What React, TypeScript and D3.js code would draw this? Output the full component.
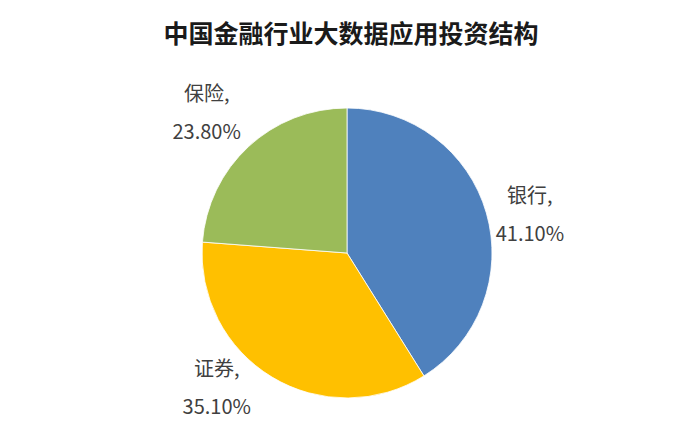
import * as d3 from 'd3'
import {useRef, useEffect} from 'react'

const title = '中国金融行业大数据应用投资结构'
const categories: string[] = ['银行', '证券', '保险']
const shares: number[] = [41.1, 35.1, 23.8]
const colors: string[] = ['#4F81BD', '#FFC000', '#9BBB59']

// Excel places the outside labels a little off the slice middle
const labelTweak = [
  {da: 4, r: 187},
  {da: 13, r: 187},
  {da: -2, r: 199},
]

interface Slice {
  name: string
  value: number
}

export default function App() {
  const svgRef = useRef<SVGSVGElement>(null)

  const svgWidth = 700
  const svgHeight = 443
  const cx = 347
  const cy = 253
  const radius = 145

  useEffect(() => {
    const SVG = d3.select(svgRef.current)
    SVG.selectAll('*').remove()

    const data: Slice[] = categories.map((name, i) => ({name, value: shares[i]}))

    const pie = d3.pie<Slice>().sort(null).value(d => d.value)
    const arcs = pie(data)
    const arc = d3.arc<d3.PieArcDatum<Slice>>().innerRadius(0).outerRadius(radius)

    SVG.append('text')
      .attr('x', 351)
      .attr('y', 43)
      .attr('text-anchor', 'middle')
      .attr('font-size', 25)
      .attr('font-weight', 'bold')
      .attr('fill', '#1a1a1a')
      .text(title)

    const g = SVG.append('g').attr('transform', `translate(${cx},${cy})`)

    g.selectAll('path')
      .data(arcs)
      .enter()
      .append('path')
      .attr('d', arc)
      .attr('fill', (d, i) => colors[i])
      .attr('stroke', '#ffffff')
      .attr('stroke-width', 0.8)

    const labels = g.selectAll('g.label')
      .data(arcs)
      .enter()
      .append('g')
      .attr('class', 'label')
      .attr('transform', (d, i) => {
        const a = (d.startAngle + d.endAngle) / 2 + (labelTweak[i].da * Math.PI) / 180
        const r = labelTweak[i].r
        return `translate(${r * Math.sin(a)},${-r * Math.cos(a)})`
      })

    labels.append('text')
      .attr('y', -11)
      .attr('text-anchor', 'middle')
      .attr('font-size', 20)
      .attr('fill', '#404040')
      .text(d => `${d.data.name},`)

    labels.append('text')
      .attr('y', 27)
      .attr('text-anchor', 'middle')
      .attr('font-size', 20)
      .attr('fill', '#404040')
      .text(d => `${d.data.value.toFixed(2)}%`)
  }, [])

  return (
    <svg
      ref={svgRef}
      width={svgWidth}
      height={svgHeight}
      style={{position: 'absolute', left: 0, top: 0, background: '#fff', fontFamily: '"Noto Sans CJK SC", "Noto Sans", sans-serif'}}
    ></svg>
  )
}
